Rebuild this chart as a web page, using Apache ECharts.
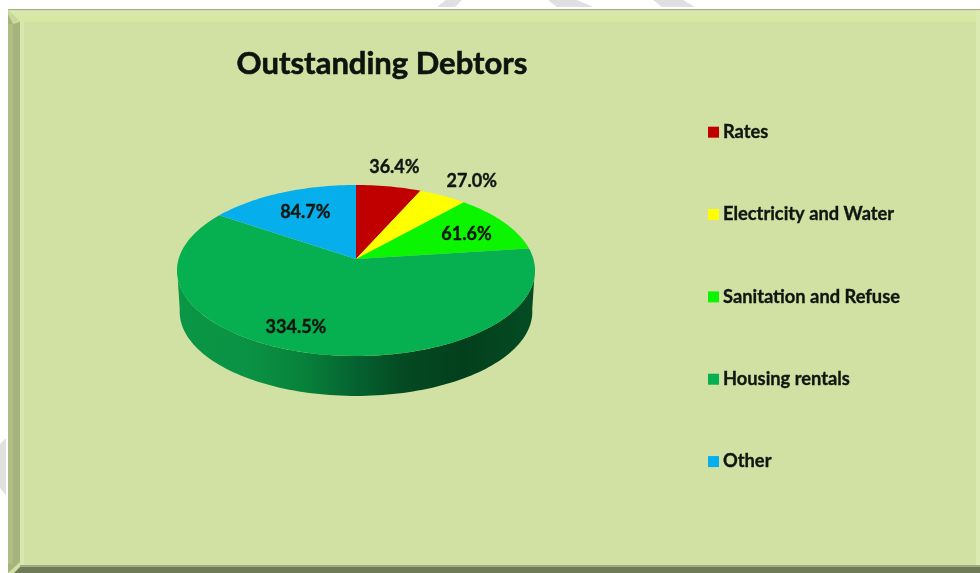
<!DOCTYPE html>
<html>
<head>
<meta charset="utf-8">
<style>html,body{margin:0;padding:0;background:#fff}#chart{width:980px;height:573px}</style>
<script src="https://cdn.jsdelivr.net/npm/echarts@6/dist/echarts.min.js"></script>
</head>
<body>
<div id="chart"></div>
<script>
// Debtor categories and their values
const categories = ['Rates', 'Electricity and Water', 'Sanitation and Refuse', 'Housing rentals', 'Other'];
const debtorValues = [36.4, 27.0, 61.6, 334.5, 84.7];
const sliceColors = ['#C00000', '#FFFF00', '#0CF500', '#06AF50', '#06AEEC'];
// Label placement per slice: distance from the hub and a small turn off the mid-angle
const labelRadius = [1.3, 1.3, 0.72, 0.79, 0.68];
const labelTurn = [-0.8, 2, 2, 9.4, 1];

// Tilted disc: k sets how much the far side shrinks, depth is the rim height
const k = 0.1345, depth = 0.493, rimScale = 0.985;
const total = debtorValues.reduce((a, b) => a + b, 0);
const starts = [];
debtorValues.reduce((acc, v, i) => { starts[i] = acc; return acc + v; }, 0);
const toAngle = v => v / total * 360;

function project(deg, r) {
  const t = deg * Math.PI / 180, u = r * Math.sin(t), v = r * Math.cos(t), w = 1 + k * v;
  return [u / w, v / w];
}
function arc(a0, a1, map) {
  const pts = [], n = Math.max(2, Math.ceil(Math.abs(a1 - a0) / 1.5));
  for (let i = 0; i <= n; i++) pts.push(map(a0 + (a1 - a0) * i / n));
  return pts;
}
const rimGradient = () => new echarts.graphic.LinearGradient(0, 0, 1, 0, [
  { offset: 0, color: '#0A9645' }, { offset: 0.2, color: '#0A9244' },
  { offset: 0.35, color: '#07823B' }, { offset: 0.5, color: '#056230' },
  { offset: 0.63, color: '#044A22' }, { offset: 0.8, color: '#033F1C' },
  { offset: 1, color: '#044C23' }
]);

function renderSlice(params, api) {
  const i = params.seriesIndex;
  const a0 = toAngle(starts[i]), a1 = toAngle(starts[i] + debtorValues[i]);
  const top = d => api.coord(project(d, 1));
  const bottom = d => { const p = project(d, 1); return api.coord([p[0] * rimScale, p[1] * rimScale - depth]); };
  const children = [];
  // Visible front part of the rim
  const f0 = Math.max(a0, 96), f1 = Math.min(a1, 264);
  if (f1 > f0) {
    children.push({
      type: 'polygon', z2: 1,
      shape: { points: arc(f0, f1, top).concat(arc(f1, f0, bottom)) },
      style: { fill: rimGradient() }
    });
  }
  // Top face of the slice
  children.push({
    type: 'polygon', z2: 2,
    shape: { points: [api.coord([0, 0])].concat(arc(a0, a1, top)) },
    style: { fill: sliceColors[i] }
  });
  const lp = api.coord(project((a0 + a1) / 2 + labelTurn[i], labelRadius[i]));
  children.push({
    type: 'text', z2: 3, x: lp[0], y: lp[1],
    style: {
      text: debtorValues[i].toFixed(1) + '%', align: 'center', verticalAlign: 'middle',
      font: 'bold 18px Lato, "Open Sans", sans-serif', fill: '#101510',
      stroke: '#101510', lineWidth: 0.35
    }
  });
  return { type: 'group', children };
}

// Bevelled panel behind the chart, plus the pale marks in the page margin
const poly = (points, fill) => ({ type: 'polygon', silent: true, shape: { points }, style: { fill } });
const rect = (x, y, width, height, fill) => ({ type: 'rect', silent: true, shape: { x, y, width, height }, style: { fill } });
const panel = [
  poly([[446, 0], [462, 0], [455, 7], [437, 7]], '#E0E0E0'),
  poly([[548, 0], [577, 0], [593, 7], [557, 7]], '#E0E0E0'),
  poly([[653, 0], [683, 0], [695, 7], [662, 7]], '#E0E0E0'),
  poly([[6, 438], [6, 495], [0, 488], [0, 444]], '#E0E0E0'),
  rect(8, 9, 972, 564, '#D1E1A4'),
  rect(8, 9, 972, 1.5, '#A9AD82'),
  poly([[8, 10.5], [980, 10.5], [980, 22], [20, 22]], '#D6E7A6'),
  rect(8, 10.5, 972, 3, '#D9E8B0'),
  rect(20, 19, 960, 2.5, '#D6EA9C'),
  rect(976, 10.5, 4, 555, '#DAEAB0'),
  rect(20, 22, 4, 543, '#D8E6B0'),
  poly([[8, 10.5], [20, 22], [20, 562], [8, 573]], '#A7B37D'),
  rect(8, 24, 5, 540, '#B2BD84'),
  poly([[8, 10.5], [20, 22], [13, 24], [8, 14]], '#C9D99B'),
  rect(20, 565, 960, 2, '#A0AB80'),
  poly([[14, 573], [20, 567], [980, 567], [980, 573]], '#6F7A57')
];

const series = categories.map(name => ({
  type: 'custom', name, clip: false, coordinateSystem: 'cartesian2d',
  itemStyle: { color: sliceColors[categories.indexOf(name)] },
  data: [[0, 0]],
  renderItem: renderSlice
}));

const chart = echarts.init(document.getElementById('chart'), null, { renderer: 'canvas' });
chart.setOption({
  animation: false,
  backgroundColor: '#fff',
  graphic: panel,
  title: {
    text: 'Outstanding Debtors', left: 377, top: 43, textAlign: 'center',
    textStyle: {
      fontFamily: 'Lato, "Open Sans", sans-serif', fontWeight: 'bold', fontSize: 31, color: '#0E130E',
      textBorderColor: '#0E130E', textBorderWidth: 0.6
    }
  },
  legend: {
    orient: 'vertical', left: 708, top: 123, padding: 0, itemWidth: 11, itemHeight: 11, itemGap: 64, icon: 'rect',
    selectedMode: false, data: categories,
    textStyle: {
      fontFamily: 'Lato, "Open Sans", sans-serif', fontWeight: 'bold', fontSize: 18.3, color: '#101510',
      padding: [0, 0, 0, -1], textBorderColor: '#101510', textBorderWidth: 0.35
    }
  },
  grid: { left: 143.12, top: 158.26, width: 425.76, height: 243.46, containLabel: false },
  xAxis: { type: 'value', min: -1.2, max: 1.2, show: false },
  yAxis: { type: 'value', min: -1.7, max: 1.2, show: false },
  series
});
</script>
</body>
</html>
